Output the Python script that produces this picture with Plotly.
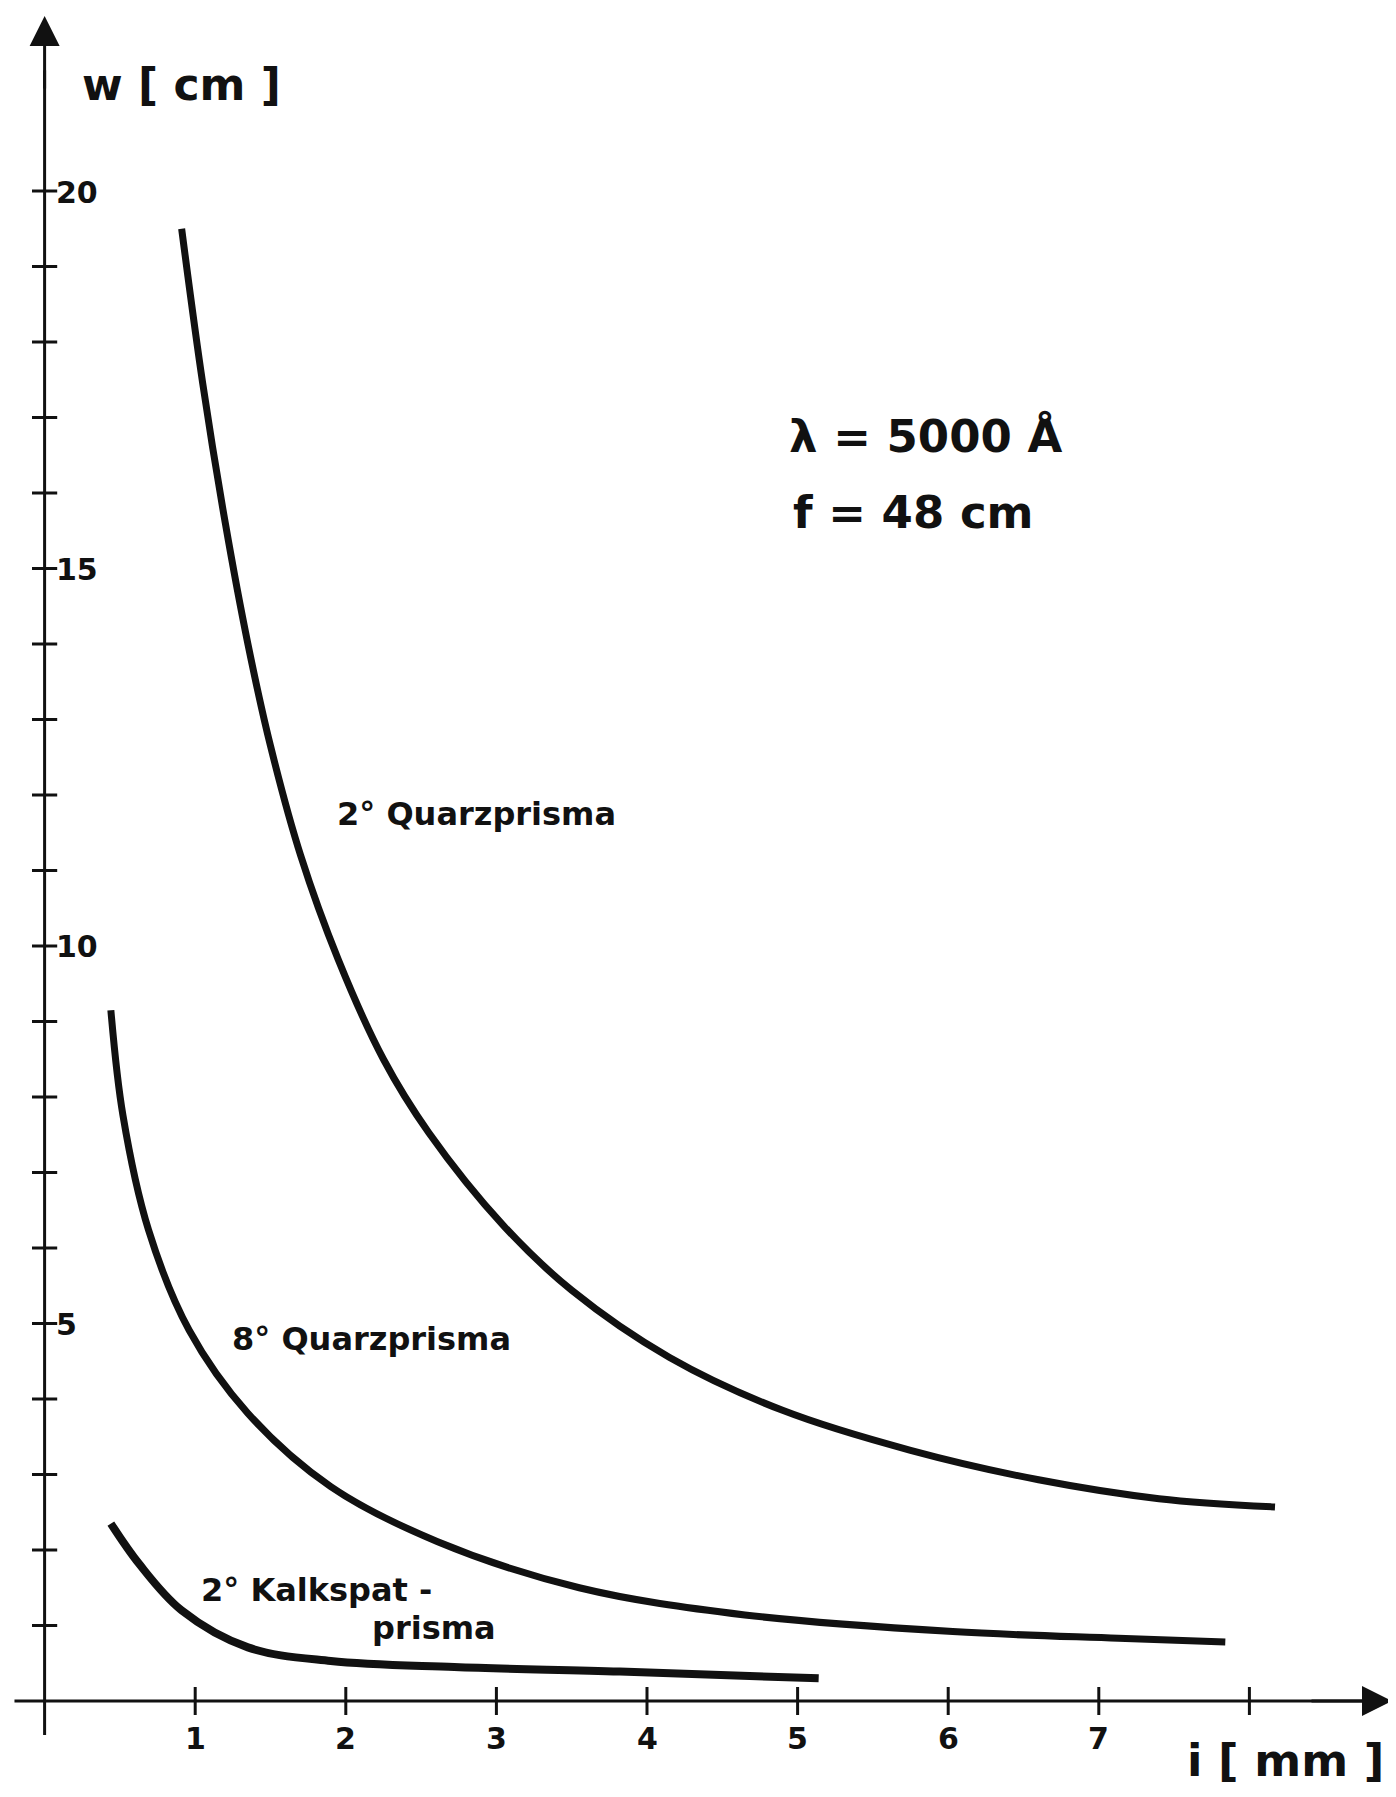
import plotly.graph_objects as go

# ---- data ----
quarz2_i = [0.91, 1.05, 1.20, 1.35, 1.50, 1.70, 1.95, 2.25, 2.55, 3.05, 3.50, 4.15, 4.90, 5.75, 6.60, 7.40, 8.17]
quarz2_w = [19.5, 17.45, 15.6, 14.0, 12.65, 11.2, 9.82, 8.5, 7.53, 6.29, 5.44, 4.55, 3.85, 3.32, 2.93, 2.68, 2.57]

quarz8_i = [0.44, 0.52, 0.69, 0.96, 1.35, 1.90, 2.61, 3.55, 4.65, 6.03, 7.13, 7.84]
quarz8_w = [9.15, 7.76, 6.24, 4.91, 3.81, 2.84, 2.11, 1.50, 1.14, 0.92, 0.83, 0.78]

kalk2_i = [0.44, 0.63, 0.91, 1.35, 1.90, 2.72, 3.82, 5.14]
kalk2_w = [2.35, 1.81, 1.20, 0.71, 0.53, 0.45, 0.39, 0.30]

x_ticks = [1, 2, 3, 4, 5, 6, 7, 8]
x_tick_labels = ["1", "2", "3", "4", "5", "6", "7", ""]
y_ticks = list(range(1, 21))
y_tick_labels = {5: "5", 10: "10", 15: "15", 20: "20"}

PAGE_W, PAGE_H = 1396, 1797
OFF = 8                       # default page margin around the figure
W, H = PAGE_W - 2 * OFF, PAGE_H - 2 * OFF
X0, XU = 44.6 - OFF, 150.6    # figure pixel of i=0, pixels per mm
Y0, YU = 1701.0 - OFF, 75.5   # figure pixel of w=0, pixels per cm

def px2x(p):   # p in page pixels
    return (p - OFF - X0) / XU

def px2y(p):
    return (Y0 - (p - OFF)) / YU

FONT = "DejaVu Sans"
INK = "#111"
fig = go.Figure()

def curve(xs, ys, width):
    fig.add_trace(go.Scatter(x=xs, y=ys, mode="lines",
                             line=dict(color=INK, width=width, shape="spline", smoothing=1.0),
                             hoverinfo="skip", showlegend=False))

curve(quarz2_i, quarz2_w, 7)
curve(quarz8_i, quarz8_w, 7)
curve(kalk2_i, kalk2_w, 8)

# axis lines
fig.add_trace(go.Scatter(x=[0, 0], y=[-0.45, 21.6], mode="lines", line=dict(color=INK, width=3),
                         hoverinfo="skip", showlegend=False))
fig.add_trace(go.Scatter(x=[-0.2, 8.75], y=[0, 0], mode="lines", line=dict(color=INK, width=3),
                         hoverinfo="skip", showlegend=False))
# ticks
fig.add_trace(go.Scatter(x=[0] * len(y_ticks), y=y_ticks, mode="markers",
                         marker=dict(symbol="line-ew", size=18, line=dict(color=INK, width=3)),
                         hoverinfo="skip", showlegend=False))
fig.add_trace(go.Scatter(x=x_ticks, y=[0] * len(x_ticks), mode="markers",
                         marker=dict(symbol="line-ns", size=20, line=dict(color=INK, width=3)),
                         hoverinfo="skip", showlegend=False))

annotations = []
# arrow heads
annotations.append(dict(x=0, y=px2y(16), ax=0, ay=px2y(90), xref="x", yref="y", axref="x", ayref="y",
                        showarrow=True, arrowhead=2, arrowsize=2.0, arrowwidth=3, arrowcolor=INK,
                        text="", standoff=0))
annotations.append(dict(x=px2x(1392), y=0, ax=px2x(1310), ay=0, xref="x", yref="y", axref="x", ayref="y",
                        showarrow=True, arrowhead=2, arrowsize=2.0, arrowwidth=3, arrowcolor=INK,
                        text="", standoff=0))

def label(text, px, py, size, xanchor="center"):
    # px, py in page pixels
    annotations.append(dict(x=(px - OFF) / W, y=1 - (py - OFF) / H, xref="paper", yref="paper",
                            text="<b>" + text + "</b>",
                            showarrow=False, xanchor=xanchor, yanchor="middle",
                            font=dict(family=FONT, size=size, color=INK)))

# y tick labels
for v, t in y_tick_labels.items():
    label(t, 54, 1701.0 - v * YU + 1, 30, xanchor="left")
# x tick labels
for v, t in zip(x_ticks, x_tick_labels):
    if t:
        label(t, 44.6 + v * XU, 1738, 30)

label("w [ cm ]", 181, 84, 44)
label("i [ mm ]", 1386, 1760, 45, xanchor="right")
label("λ = 5000 Å", 925, 436, 45)
label("f = 48 cm", 913, 512, 45)
label("2° Quarzprisma", 476, 814, 32)
label("8° Quarzprisma", 371, 1339, 32)
label("2° Kalkspat -", 316, 1590, 32)
label("prisma", 434, 1628, 32)

fig.update_layout(
    width=W, height=H,
    margin=dict(l=0, r=0, t=0, b=0),
    paper_bgcolor="white", plot_bgcolor="white",
    xaxis=dict(range=[-X0 / XU, (W - X0) / XU], visible=False, fixedrange=True),
    yaxis=dict(range=[(Y0 - H) / YU, Y0 / YU], visible=False, fixedrange=True),
    annotations=annotations,
    showlegend=False,
)

fig.write_html("out.html")
